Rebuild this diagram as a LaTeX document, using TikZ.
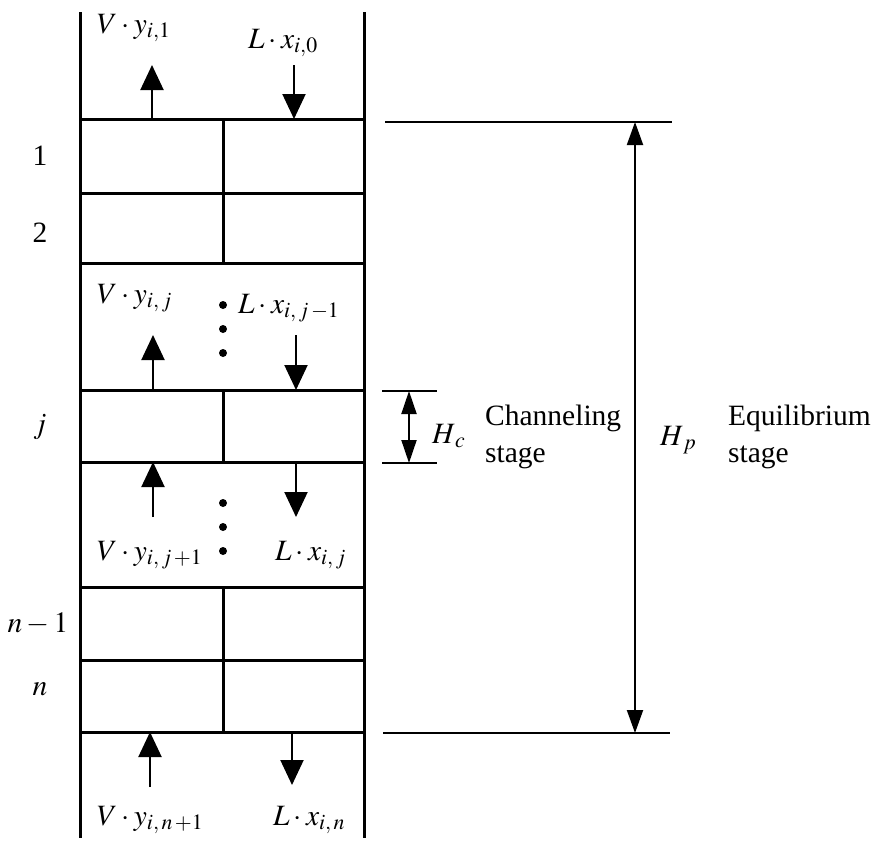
\documentclass[tikz,border=0pt]{standalone}
\usepackage{mathptmx}
\usepackage[no-math]{fontspec}
\setmainfont{Liberation Serif}
\usetikzlibrary{arrows.meta}
\tikzset{
  wall/.style={line width=3pt},
  tray/.style={line width=3pt},
  flow/.style={line width=2pt,-{Triangle[width=23pt,length=25pt]}},
  dim/.style={line width=2pt,{Triangle[width=16pt,length=23pt]}-{Triangle[width=16pt,length=23pt]}},
  refline/.style={line width=2pt},
  lbl/.style={anchor=base west,inner sep=0pt,font=\fontsize{29.5}{33}\selectfont},
  stagelbl/.style={anchor=base,inner sep=0pt,font=\fontsize{29.5}{33}\selectfont},
  dotmark/.style={fill=black,draw=none}
}
\begin{document}
\begin{tikzpicture}[x=1pt,y=-1pt]
\useasboundingbox (0,0) rectangle (878,852);
% walls
\coordinate (wlt) at (80,12);  \coordinate (wlb) at (80,838);
\coordinate (wrt) at (364,12); \coordinate (wrb) at (364,838);
\draw[wall] (wlt) -- (wlb);
\draw[wall] (wrt) -- (wrb);
% trays
\foreach \yy/\nm in {119/a,193/b,263/c,390/d,462/e,587/f,660/g,732/h}{
  \coordinate (L\nm) at (80,\yy);
  \coordinate (R\nm) at (364,\yy);
  \coordinate (M\nm) at (223,\yy);
  \draw[tray] (L\nm) -- (R\nm);
}
\draw[tray] (Ma) -- (Mc);
\draw[tray] (Md) -- (Me);
\draw[tray] (Mf) -- (Mh);
% flow arrows
\coordinate (u1s) at (152,119); \coordinate (u1e) at (152,65);
\coordinate (d1s) at (294,65);  \coordinate (d1e) at (294,119);
\coordinate (u2s) at (153,390); \coordinate (u2e) at (153,335);
\coordinate (d2s) at (296,335); \coordinate (d2e) at (296,390);
\coordinate (u3s) at (153,517); \coordinate (u3e) at (153,462);
\coordinate (d3s) at (296,462); \coordinate (d3e) at (296,517);
\coordinate (u4s) at (150,787); \coordinate (u4e) at (150,732);
\coordinate (d4s) at (292,732); \coordinate (d4e) at (292,785);
\draw[flow] (u1s) -- (u1e);
\draw[flow] (d1s) -- (d1e);
\draw[flow] (u2s) -- (u2e);
\draw[flow] (d2s) -- (d2e);
\draw[flow] (u3s) -- (u3e);
\draw[flow] (d3s) -- (d3e);
\draw[flow] (u4s) -- (u4e);
\draw[flow] (d4s) -- (d4e);
% dots
\foreach \yy in {305,329,353,503,527,551}{
  \fill[dotmark] (223,\yy) circle (4pt);
}
% flow labels
\node[lbl] (vy1) at (97,33) {$V\cdot y_{i,1}$};
\node[lbl] (lx0) at (248,48) {$L\cdot x_{i,0}$};
\node[lbl] (vyj) at (97,303) {$V\cdot y_{i,\,j}$};
\node[lbl] (lxj1) at (238,313) {$L\cdot x_{i,\,j\,-1}$};
\node[lbl] (vyj1) at (97,560) {$V\cdot y_{i,\,j\,+1}$};
\node[lbl] (lxj) at (275,560) {$L\cdot x_{i,\,j}$};
\node[lbl] (vyn1) at (97,825) {$V\cdot y_{i,\,n\,+1}$};
\node[lbl] (lxn) at (273,825) {$L\cdot x_{i,\,n}$};
% stage numbers
\node[stagelbl] (s1) at (40,165) {1};
\node[stagelbl] (s2) at (40,242) {2};
\node[stagelbl] (sj) at (40,433) {$j$};
\node[stagelbl] (snm1) at (38,632) {$n-1$};
\node[stagelbl] (sn) at (40,695) {$n$};
% Hc dimension
\coordinate (hct1) at (382,391); \coordinate (hct2) at (437,391);
\coordinate (hcb1) at (382,463); \coordinate (hcb2) at (437,463);
\coordinate (hcat) at (409,391); \coordinate (hcab) at (409,463);
\draw[refline] (hct1) -- (hct2);
\draw[refline] (hcb1) -- (hcb2);
\draw[dim,{Triangle[width=15pt,length=23pt]}-{Triangle[width=15pt,length=23pt]}] (hcat) -- (hcab);
\node[lbl] (hc) at (432,443) {$H_{\,c}$};
\node[lbl] (chan) at (485,425) {Channeling};
\node[lbl] (chst) at (485,462) {stage};
% Hp dimension
\coordinate (hpt1) at (385,122); \coordinate (hpt2) at (672,122);
\coordinate (hpb1) at (383,733); \coordinate (hpb2) at (670,733);
\coordinate (hpat) at (635,122); \coordinate (hpab) at (635,733);
\draw[refline] (hpt1) -- (hpt2);
\draw[refline] (hpb1) -- (hpb2);
\draw[dim] (hpat) -- (hpab);
\node[lbl] (hp) at (660,445) {$H_{\,p}$};
\node[lbl] (equ) at (728,425) {Equilibrium};
\node[lbl] (eqst) at (728,462) {stage};
\end{tikzpicture}
\end{document}
